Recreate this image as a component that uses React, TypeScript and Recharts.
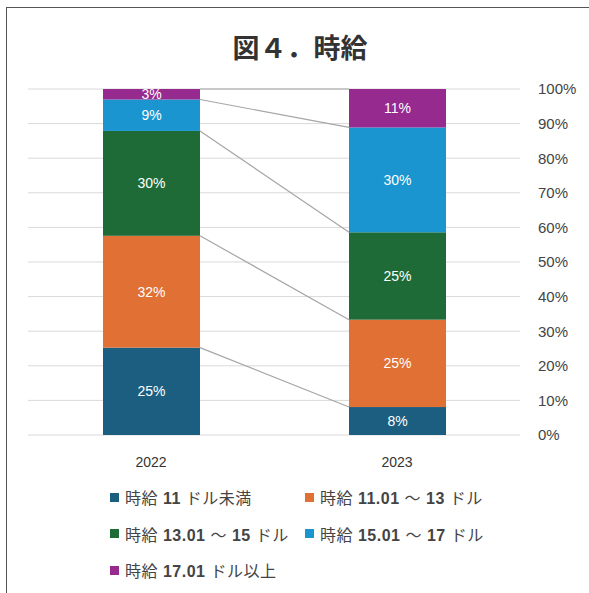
import React from 'react';
import { BarChart, Bar, XAxis, YAxis, CartesianGrid, LabelList } from 'recharts';

const years = ['2022', '2023'];
const under11 = [25, 8];
const from11to13 = [32, 25];
const from13to15 = [30, 25];
const from15to17 = [9, 30];
const over17 = [3, 11];
const yTicks = [0, 0.1, 0.2, 0.3, 0.4, 0.5, 0.6, 0.7, 0.8, 0.9, 1];

const series = [
    { key: 'a', name: '時給 11 ドル未満', values: under11, color: '#1B5E80' },
    { key: 'b', name: '時給 11.01 〜 13 ドル', values: from11to13, color: '#E07033' },
    { key: 'c', name: '時給 13.01 〜 15 ドル', values: from13to15, color: '#1E6B38' },
    { key: 'd', name: '時給 15.01 〜 17 ドル', values: from15to17, color: '#1A95CF' },
    { key: 'e', name: '時給 17.01 ドル以上', values: over17, color: '#962A8F' },
];

const data = years.map((year, i) => {
    const row: any = { year };
    series.forEach(s => { row[s.key] = s.values[i]; });
    return row;
});

const FONT = '"Liberation Sans", Arial, "Noto Sans CJK JP", sans-serif';

// draws the bar and a connector line from the previous bar's top right to this bar's top left
const makeShape = () => {
    const prev: any = {};
    return (props: any) => {
        const { x, y, width, height, fill, index } = props;
        if (index === 0) {
            prev.x = x + width;
            prev.y = y;
        }
        return (
            <g>
                <rect x={x} y={y} width={width} height={height} fill={fill} />
                {index === 1 && prev.x !== undefined && (
                    <line x1={prev.x} y1={prev.y} x2={x} y2={y} stroke="#a6a6a6" strokeWidth={1.2} />
                )}
            </g>
        );
    };
};

// numbers in the legend are bold, the japanese text is not
const LegendText: React.FC<{ text: string }> = ({ text }) => (
    <span>
        {text.split(/([\d.]+)/).map((part, i) =>
            /^[\d.]+$/.test(part) ? <b key={i}>{part}</b> : <span key={i}>{part}</span>
        )}
    </span>
);

const App: React.FC = () => {
    return (
        <div style={{ position: 'absolute', left: 0, top: 0, width: 589, height: 593, background: '#fff', overflow: 'hidden', fontFamily: FONT }}>
            <div style={{ position: 'absolute', left: 6, top: 7, width: 620, height: 620, border: '1.5px solid #555' }} />
            <div style={{ position: 'absolute', left: 0, width: 600, top: 27, textAlign: 'center', fontSize: 27, fontWeight: 'bold', color: '#333', fontFamily: '"Noto Sans CJK JP", sans-serif' }}>
                図４．時給
            </div>
            <div style={{ position: 'absolute', left: 0, top: 0 }}>
                <BarChart width={589} height={480} data={data} stackOffset="expand" margin={{ top: 89, right: 0, left: 28, bottom: 15 }}>
                    <CartesianGrid vertical={false} stroke="#d9d9d9" />
                    <XAxis dataKey="year" axisLine={false} tickLine={false} tickMargin={16} tick={{ fill: '#333', fontSize: 14, fontFamily: FONT }} />
                    <YAxis orientation="right" width={69} ticks={yTicks} domain={[0, 1]} axisLine={false} tickLine={false} tickMargin={12}
                        tickFormatter={(v: number) => `${Math.round(v * 100)}%`} tick={{ fill: '#444', fontSize: 15, fontFamily: FONT, textAnchor: 'start' }} />
                    {series.map(s => (
                        <Bar key={s.key} dataKey={s.key} stackId="1" fill={s.color} barSize={97} isAnimationActive={false} shape={makeShape()}>
                            <LabelList dataKey={s.key} position="center" fill="#fff" fontSize={14} fontFamily={FONT} formatter={(v: any) => `${v}%`} />
                        </Bar>
                    ))}
                </BarChart>
            </div>
            {series.map((s, i) => (
                <div key={s.key} style={{ position: 'absolute', left: i % 2 === 0 ? 110 : 305, top: 485 + Math.floor(i / 2) * 36.5, display: 'flex', alignItems: 'center', fontSize: 16, color: '#444', letterSpacing: 0.5 }}>
                    <span style={{ display: 'inline-block', width: 9, height: 9, background: s.color, marginRight: 6 }} />
                    <LegendText text={s.name} />
                </div>
            ))}
        </div>
    );
};

export default App;
